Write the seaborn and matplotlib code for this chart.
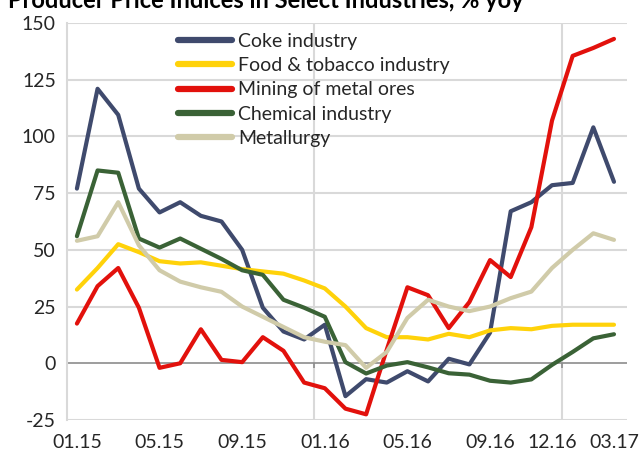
import matplotlib
matplotlib.use("Agg")
import matplotlib.pyplot as plt
import seaborn as sns
import pandas as pd
import numpy as np

months = ["01.15", "02.15", "03.15", "04.15", "05.15", "06.15", "07.15", "08.15", "09.15",
          "10.15", "11.15", "12.15", "01.16", "02.16", "03.16", "04.16", "05.16", "06.16",
          "07.16", "08.16", "09.16", "10.16", "11.16", "12.16", "01.17", "02.17", "03.17"]
tick_labels = ["01.15", "05.15", "09.15", "01.16", "05.16", "09.16", "12.16", "03.17"]

coke = [77, 121, 109.5, 77, 66.5, 71, 65, 62.5, 50, 24.5, 14, 10.5, 17, -14.5, -7, -8.5,
        -3.5, -8, 2, -0.5, 13.5, 67, 71, 78.5, 79.5, 104, 80]
food = [32.5, 42, 52.5, 49, 45, 44, 44.5, 43, 41.5, 40.5, 39.5, 36.5, 33, 25, 15.5, 11.5,
        11.5, 10.5, 13, 11.5, 14.5, 15.5, 15, 16.5, 17, 17, 17]
mining = [17.5, 34, 42, 24.5, -2, 0, 15, 1.5, 0.5, 11.5, 5.5, -8.5, -11, -20, -22.5, 6,
          33.5, 30, 15.5, 27, 45.5, 38, 60, 107, 135.5, 139, 143]
chemical = [56, 85, 84, 55, 51, 55, 50.5, 46, 41, 39, 28, 24.5, 20.5, 0.5, -4.5, -1, 0.5,
            -1.8, -4.4, -5, -7.7, -8.5, -7.1, -0.7, 5, 11, 12.8]
metallurgy = [54, 56, 71, 52, 41, 36, 33.5, 31.5, 25, 20.5, 16, 11.5, 9.5, 8, -2, 5, 20,
              28, 25, 23, 25, 28.7, 31.6, 42, 50, 57.3, 54.4]

series_names = ["Coke industry", "Food & tobacco industry", "Mining of metal ores",
                "Chemical industry", "Metallurgy"]
series_values = [coke, food, mining, chemical, metallurgy]
colors = ["#3F4A6D", "#FFD20A", "#E2110C", "#3A6236", "#D0CBA9"]

rows = []
for name, vals in zip(series_names, series_values):
    for i, (m, v) in enumerate(zip(months, vals)):
        rows.append({"idx": i, "month": m, "value": v, "series": name})
df = pd.DataFrame(rows)

sns.set_style("white")
plt.rcParams["font.family"] = ["Lato", "DejaVu Sans"]

fig = plt.figure(figsize=(6.39, 4.54), dpi=100)
ax = fig.add_axes([67 / 639, 1 - 420 / 454, (627 - 67) / 639, (420 - 23) / 454])

sns.lineplot(data=df, x="idx", y="value", hue="series", hue_order=series_names,
             palette=colors, linewidth=3.0, sort=False, ax=ax, legend=True)

ax.set_xlim(-0.48, 26.63)
ax.set_ylim(-25, 150)
ax.set_yticks(np.arange(-25, 151, 25))
ax.set_yticklabels([str(v) for v in range(-25, 151, 25)], fontsize=14)
tick_pos = [months.index(t) for t in tick_labels]
ax.set_xticks(tick_pos)
ax.set_xticklabels(tick_labels, fontsize=14)
ax.tick_params(axis="y", length=0, pad=8)
ax.tick_params(axis="x", length=0, pad=10)
ax.set_xlabel("")
ax.set_ylabel("")

for s in ["top", "right", "bottom"]:
    ax.spines[s].set_visible(False)
ax.spines["left"].set_color("#D9D9D9")
ax.spines["left"].set_linewidth(1.5)

for yv in range(-25, 151, 25):
    if yv != 0:
        ax.axhline(yv, color="#D9D9D9", lw=1.5, zorder=0)
ax.axhline(0, color="#8C8C8C", lw=1.2, zorder=1)
for xv in [11.5, 23.5]:
    ax.axvline(xv, color="#D9D9D9", lw=1.5, zorder=0)
ax.vlines([-0.48, 11.5, 23.5], -2.2, 0, color="#8C8C8C", lw=1.2, zorder=1)

handles, labels = ax.get_legend_handles_labels()
leg = ax.legend(handles, labels, loc="upper left", bbox_to_anchor=(0.18, 1.0),
                frameon=False, fontsize=14, handlelength=2.8, handletextpad=0.3,
                labelspacing=0.38, borderaxespad=0.1)
for h in leg.get_lines():
    h.set_linewidth(4.5)

fig.text(8 / 639, 1 - 8 / 454, "Producer Price Indices in Select Industries, % yoy",
         ha="left", va="baseline", fontsize=17, fontweight="bold", color="#000000")

fig.savefig("out.png", dpi=100)
